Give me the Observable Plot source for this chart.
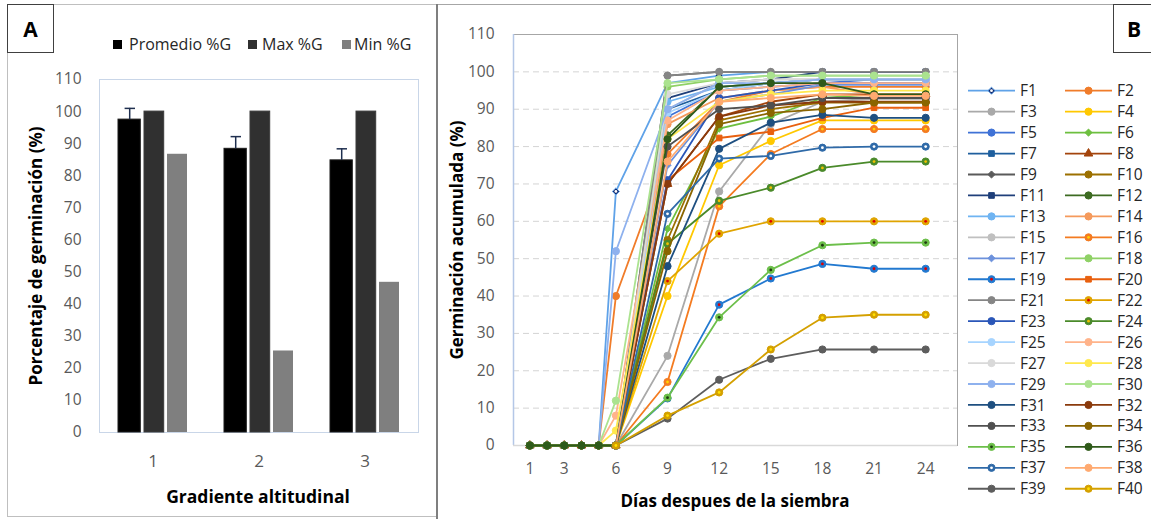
<!DOCTYPE html>
<html><head><meta charset="utf-8">
<script src="https://cdn.jsdelivr.net/npm/d3@7"></script>
<script src="https://cdn.jsdelivr.net/npm/@observablehq/plot@0.6"></script>
<style>
body{margin:0;background:#fff;font-family:"Open Sans",sans-serif;}
#wrap{position:relative;width:1151px;height:519px;overflow:hidden;background:#fff;}
.abs{position:absolute;}
.title{font-weight:bold;font-size:17px;color:#000;white-space:nowrap;}
.box{position:absolute;border:1.5px solid #404040;background:#fff;font-weight:bold;font-size:21px;display:flex;align-items:center;justify-content:center;box-sizing:border-box;}
.lg{position:absolute;font-size:16px;color:#404040;white-space:nowrap;line-height:18px;}
.sq{position:absolute;width:9px;height:9px;}
</style></head>
<body><div id="wrap"></div>
<script>
// ---------- Panel A data ----------
const groups = ["1", "2", "3"];
const promedio = [97.5, 88.4, 84.8];
const promedioErr = [3.5, 3.8, 3.6];
const maxG = [100, 100, 100];
const minG = [86.7, 25.4, 46.8];
const seriesA = ["Promedio %G", "Max %G", "Min %G"];
const colorsA = ["#000000", "#303030", "#7f7f7f"];

// ---------- Panel B data ----------
const days = [1, 2, 3, 4, 5, 6, 9, 12, 15, 18, 21, 24];
const names = ["F1","F2","F3","F4","F5","F6","F7","F8","F9","F10",
  "F11","F12","F13","F14","F15","F16","F17","F18","F19","F20",
  "F21","F22","F23","F24","F25","F26","F27","F28","F29","F30",
  "F31","F32","F33","F34","F35","F36","F37","F38","F39","F40"];
const germ = [
  [0,0,0,0,0,68,97,99,100,100,100,100],
  [0,0,0,0,0,40,78,92,95,96,96,96],
  [0,0,0,0,0,0,24,68,86,92,92.8,92.8],
  [0,0,0,0,0,0,40,75,81.5,87,87,87],
  [0,0,0,0,0,0,88,95,96,97,98,98],
  [0,0,0,0,0,0,58,84.8,88,93,94,94],
  [0,0,0,0,0,0,90,95,97,98,98,98],
  [0,0,0,0,0,0,70,88,92,94,94,94],
  [0,0,0,0,0,0,99,100,100,100,100,100],
  [0,0,0,0,0,0,55,87,90,91.8,91.8,91.8],
  [0,0,0,0,0,0,93,97,98,100,100,100],
  [0,0,0,0,0,0,83,96,97,98,98,98],
  [0,0,0,0,0,0,92,96,97,98,98,98],
  [0,0,0,0,0,0,86,93,95,96,94,94],
  [0,0,0,0,0,0,90,97,98,98,98,98],
  [0,0,0,0,0,0,17,64,78,84.7,84.7,84.7],
  [0,0,0,0,0,0,75,92,94,96.5,96.5,96.5],
  [0,0,0,0,0,0,96,98,99,99,99,99],
  [0,0,0,0,0,0,12.6,37.7,44.7,48.6,47.3,47.3],
  [0,0,0,0,0,0,71,82.3,84,87.7,90.4,90.4],
  [0,0,0,0,0,0,99,100,100,100,100,100],
  [0,0,0,0,0,0,44,56.7,60,60,60,60],
  [0,0,0,0,0,0,71,93,95,97,97,97],
  [0,0,0,0,0,0,54,65.5,69,74.3,76,76],
  [0,0,0,0,0,0,89,95,97,98,98,98],
  [0,0,0,0,0,8,87,95,96,97,97,97],
  [0,0,0,0,0,0,94,97,98,98,98,98],
  [0,0,0,0,0,4,82,92,94,95,95,95],
  [0,0,0,0,0,52,90,97,97,98,98,98],
  [0,0,0,0,0,12,97,98,99,99,99,99],
  [0,0,0,0,0,0,48,79.4,86.4,88.5,87.7,87.7],
  [0,0,0,0,0,0,70,88,91,92,92,92],
  [0,0,0,0,0,0,80,90,91,93,93,93],
  [0,0,0,0,0,0,52,86,89,90,91.8,91.8],
  [0,0,0,0,0,0,12.8,34.3,47,53.6,54.3,54.3],
  [0,0,0,0,0,0,82,96,97,97,94,94],
  [null,null,null,null,null,0,62,76.8,77.5,79.7,80,80],
  [null,null,null,null,null,0,76,92,93,94,93.6,93.6],
  [null,null,null,null,null,0,7.2,17.6,23.2,25.7,25.7,25.7],
  [null,null,null,null,null,0,8,14.2,25.7,34.2,35,35]
];
const colorsB = ["#5fa2e8","#f07c2a","#a9a9a9","#ffc800","#3f72d6","#6dbf3f","#1f5f9e","#a3440c","#5a5a5a","#9c7000",
  "#1f3f7a","#3d6b22","#6fb4f2","#f59a5c","#c0c0c0","#f47b20","#6c91dc","#8fd166","#2279d0","#e8600f",
  "#858585","#e0a400","#2a56b8","#4a8a2a","#a6d4ff","#ffb38a","#d9d9d9","#ffe84d","#8eb1ee","#abe38f",
  "#1e4f80","#8a3a0c","#505050","#8a6500","#6cbf4a","#2f5a1a","#2f6aa8","#ffaa70","#5d5d5d","#d4a000"];
const markFill = colorsB.map((c, i) => i === 0 ? "#14286a" : c);
const symbolsB = ["diamond2","circle","circle","circle","circle","diamond2","square","triangle","diamond2","circle",
  "square","circle","circle","circle","circle","circle","diamond2","circle","circle","square",
  "circle","circle","circle","circle","circle","circle","circle","circle","circle","circle",
  "circle","circle","circle","circle","circle","circle","circle","circle","circle","circle"];
const innerB = {0:"#ffffff", 15:"#ffd200", 18:"#e00000", 21:"#e00000", 23:"#f0c000", 34:"#1f3a10", 36:"#ffffff", 39:"#ffe000"};
const yTicks = [0,10,20,30,40,50,60,70,80,90,100,110];
const xTicksB = [1,3,6,9,12,15,18,21,24];

const wrap = document.getElementById("wrap");
function add(html){ wrap.insertAdjacentHTML("beforeend", html); }

// ---------- Panel A ----------
const dataA = groups.map((g, i) => ({g, mean: promedio[i], err: promedioErr[i], max: maxG[i], min: minG[i]}));
const plotA = Plot.plot({
  width: 440, height: 519,
  marginLeft: 99, marginRight: 22, marginTop: 79, marginBottom: 87,
  style: {fontFamily: "Open Sans", fontSize: "15.5px", color: "#595959", background: "transparent"},
  x: {domain: groups, paddingInner: 0.347, paddingOuter: 0.173},
  y: {domain: [0, 110]},
  marks: [
    Plot.frame({stroke: "#c9d6e8"}),
    Plot.barY(dataA, {x: "g", y: "mean", fill: colorsA[0], stroke: "#1a1a1a", strokeWidth: 1, insetLeft: 0, insetRight: 46.7}),
    Plot.barY(dataA, {x: "g", y: "max", fill: colorsA[1], stroke: "#3a3a3a", strokeWidth: 1, insetLeft: 26, insetRight: 23.3}),
    Plot.barY(dataA, {x: "g", y: "min", fill: colorsA[2], insetLeft: 49, insetRight: 0}),
    Plot.ruleX(dataA, {x: "g", y1: "mean", y2: d => d.mean + d.err, dx: -23.3, stroke: "#1f2f4f", strokeWidth: 1.5}),
    Plot.tickY(dataA, {x: "g", y: d => d.mean + d.err, insetLeft: 6.6, insetRight: 52, stroke: "#1f2f4f", strokeWidth: 1.5}),
    Plot.axisY(yTicks, {tickSize: 0, tickPadding: 18, label: null}),
    Plot.axisX({tickSize: 0, tickPadding: 22, label: null, fontSize: 17})
  ]
});
plotA.style.position = "absolute"; plotA.style.left = "0px"; plotA.style.top = "0px";
wrap.appendChild(plotA);

// ---------- Panel B ----------
const dataB = names.flatMap((n, i) => days.map((d, j) => ({name: n, day: d, v: germ[i][j]})));
const marksB = [
  Plot.gridY(yTicks, {stroke: "#d4d4d4", strokeDasharray: "6,4", strokeOpacity: 1}),
  Plot.frame({stroke: "#a6a6a6"}),
  Plot.ruleX([0.05], {stroke: "#b4c7e7", strokeWidth: 1.5}),
  Plot.ruleY([0], {stroke: "#d9d9d9", strokeWidth: 1.5}),
  Plot.axisY(yTicks, {tickSize: 0, tickPadding: 19, label: null}),
  Plot.axisX(xTicksB, {tickSize: 0, tickPadding: 17, label: null})
];
names.forEach((n, i) => {
  const rows = dataB.filter(d => d.name === n && d.v != null);
  const r = symbolsB[i] === "circle" ? 3.6 : 3.2;
  marksB.push(Plot.line(rows, {x: "day", y: "v", stroke: colorsB[i], strokeWidth: 1.8}));
  marksB.push(Plot.dot(rows, {x: "day", y: "v", r, symbol: symbolsB[i], fill: markFill[i], stroke: colorsB[i], strokeWidth: 1}));
  if (innerB[i]) marksB.push(Plot.dot(rows, {x: "day", y: "v", r: 1.4, fill: innerB[i]}));
});
const plotB = Plot.plot({
  width: 711, height: 519,
  marginLeft: 73, marginRight: 194, marginTop: 34, marginBottom: 74,
  style: {fontFamily: "Open Sans", fontSize: "15.5px", color: "#595959", background: "transparent"},
  x: {domain: [0.05, 25.85]},
  y: {domain: [0, 110]},
  marks: marksB
});
plotB.style.position = "absolute"; plotB.style.left = "440px"; plotB.style.top = "0px";
wrap.appendChild(plotB);

// ---------- borders & boxes ----------
add('<div class="abs" style="left:7px;top:4px;width:430px;height:513px;border:1px solid #bfbfbf;border-right:none;box-sizing:border-box;"></div>');
add('<div class="abs" style="left:436px;top:4px;width:2px;height:515px;background:#7f7f7f;"></div>');
add('<div class="abs" style="left:438px;top:4px;width:713px;height:1px;background:#a6a6a6;"></div>');
add('<div class="box" style="left:7px;top:4px;width:47px;height:49px;">A</div>');
add('<div class="box" style="left:1113px;top:4px;width:45px;height:49px;justify-content:flex-start;padding-left:13px;">B</div>');

// ---------- titles ----------
add('<div class="abs title" style="left:35px;top:256px;transform:translate(-50%,-50%) rotate(-90deg);">Porcentaje de germinación (%)</div>');
add('<div class="abs title" style="left:258px;top:496px;transform:translate(-50%,-50%);font-size:17.5px;">Gradiente altitudinal</div>');
add('<div class="abs title" style="left:456px;top:240px;transform:translate(-50%,-50%) rotate(-90deg);">Germinación acumulada (%)</div>');
add('<div class="abs title" style="left:735px;top:500px;transform:translate(-50%,-50%);">Días despues de la siembra</div>');

// ---------- legend A ----------
const legA = [[113, 129], [248, 262], [342, 354]];
seriesA.forEach((s, i) => {
  add(`<div class="sq" style="left:${legA[i][0]}px;top:40px;background:${colorsA[i]};"></div>`);
  add(`<div class="lg" style="left:${legA[i][1]}px;top:35px;color:#262626;">${s}</div>`);
});

// ---------- legend B ----------
const symMap = {circle: d3.symbolCircle, square: d3.symbolSquare, diamond2: d3.symbolDiamond2, triangle: d3.symbolTriangle};
const legSvg = d3.create("svg").attr("width", 200).attr("height", 519)
  .style("position", "absolute").style("left", "960px").style("top", "0px");
names.forEach((n, i) => {
  const col = i % 2, row = Math.floor(i / 2);
  const x0 = col === 0 ? 8 : 105, y = 90.7 + row * 20.95;
  const r = symbolsB[i] === "circle" ? 3.6 : 3.2;
  legSvg.append("line").attr("x1", x0).attr("x2", x0 + 47).attr("y1", y).attr("y2", y)
    .attr("stroke", colorsB[i]).attr("stroke-width", 1.8);
  legSvg.append("path").attr("transform", `translate(${x0 + 23.5},${y})`)
    .attr("d", d3.symbol(symMap[symbolsB[i]], Math.PI * r * r)())
    .attr("fill", markFill[i]).attr("stroke", colorsB[i]).attr("stroke-width", 1);
  if (innerB[i]) legSvg.append("circle").attr("cx", x0 + 23.5).attr("cy", y).attr("r", 1.4).attr("fill", innerB[i]);
  legSvg.append("text").attr("x", x0 + 52).attr("y", y).attr("dy", "0.36em")
    .attr("font-family", "Open Sans").attr("font-size", 15.5).attr("fill", "#262626").text(n);
});
wrap.appendChild(legSvg.node());
</script>
</body></html>
